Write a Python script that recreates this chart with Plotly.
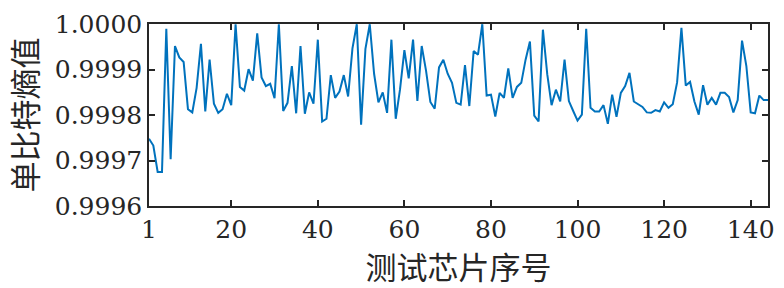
import plotly.graph_objects as go

chip_index = list(range(1, 145))
entropy = [
    0.999748, 0.999733, 0.999675, 0.999675, 0.999990, 0.999703, 0.999952, 0.999927, 0.999917, 0.999813,
    0.999806, 0.999860, 0.999957, 0.999808, 0.999922, 0.999825, 0.999805, 0.999813, 0.999847, 0.999822,
    1.000000, 0.999862, 0.999854, 0.999901, 0.999876, 0.999980, 0.999883, 0.999864, 0.999869, 0.999837,
    1.000000, 0.999809, 0.999827, 0.999908, 0.999804, 0.999952, 0.999803, 0.999850, 0.999825, 0.999966,
    0.999786, 0.999792, 0.999888, 0.999838, 0.999852, 0.999888, 0.999841, 0.999947, 1.000000, 0.999779,
    0.999946, 1.000000, 0.999891, 0.999828, 0.999850, 0.999805, 0.999966, 0.999792, 0.999857, 0.999943,
    0.999881, 0.999966, 0.999831, 0.999952, 0.999898, 0.999829, 0.999814, 0.999905, 0.999922, 0.999891,
    0.999871, 0.999827, 0.999823, 0.999910, 0.999820, 0.999941, 0.999933, 1.000000, 0.999843, 0.999845,
    0.999797, 0.999849, 0.999838, 0.999903, 0.999838, 0.999862, 0.999871, 0.999922, 0.999962, 0.999799,
    0.999786, 0.999988, 0.999890, 0.999822, 0.999856, 0.999830, 0.999922, 0.999831, 0.999809, 0.999788,
    0.999801, 0.999990, 0.999816, 0.999808, 0.999808, 0.999822, 0.999781, 0.999845, 0.999796, 0.999849,
    0.999864, 0.999893, 0.999830, 0.999823, 0.999818, 0.999806, 0.999805, 0.999811, 0.999808, 0.999828,
    0.999816, 0.999824, 0.999872, 0.999992, 0.999865, 0.999873, 0.999830, 0.999801, 0.999866, 0.999823,
    0.999838, 0.999823, 0.999849, 0.999849, 0.999840, 0.999806, 0.999833, 0.999964, 0.999908, 0.999806,
    0.999804, 0.999843, 0.999833, 0.999833,
]
x_ticks = [1, 20, 40, 60, 80, 100, 120, 140]
y_ticks = [0.9996, 0.9997, 0.9998, 0.9999, 1.0]
y_tick_text = ["0.9996", "0.9997", "0.9998", "0.9999", "1.0000"]
x_title = "测试芯片序号"
y_title = "单比特熵值"

fig = go.Figure()
fig.add_trace(go.Scatter(x=chip_index, y=entropy, mode="lines",
                         line=dict(color="#0072BD", width=2), showlegend=False))

tick_font = dict(family="DejaVu Serif", size=25, color="#262626")
title_font = dict(family="Noto Sans CJK SC", size=31, color="#262626")

fig.update_layout(
    width=784, height=288,
    margin=dict(l=149, r=10, t=13, b=79),
    paper_bgcolor="white", plot_bgcolor="white",
)
fig.update_xaxes(
    range=[1, 144], tickvals=x_ticks, ticktext=[str(v) for v in x_ticks],
    ticks="inside", ticklen=6, tickwidth=1.5, tickcolor="#262626",
    showline=True, linecolor="#262626", linewidth=1.5, mirror="ticks",
    showgrid=False, zeroline=False, tickfont=tick_font,
    title=dict(text=x_title, font=title_font, standoff=13),
)
fig.update_yaxes(
    range=[0.9996, 1.0000005], tickvals=y_ticks, ticktext=y_tick_text,
    ticklabeloverflow="allow",
    ticks="inside", ticklen=6, tickwidth=1.5, tickcolor="#262626",
    showline=True, linecolor="#262626", linewidth=1.5, mirror="ticks",
    showgrid=False, zeroline=False, tickfont=tick_font,
    title=dict(text=y_title, font=title_font, standoff=8),
)

fig.write_html("out.html")
